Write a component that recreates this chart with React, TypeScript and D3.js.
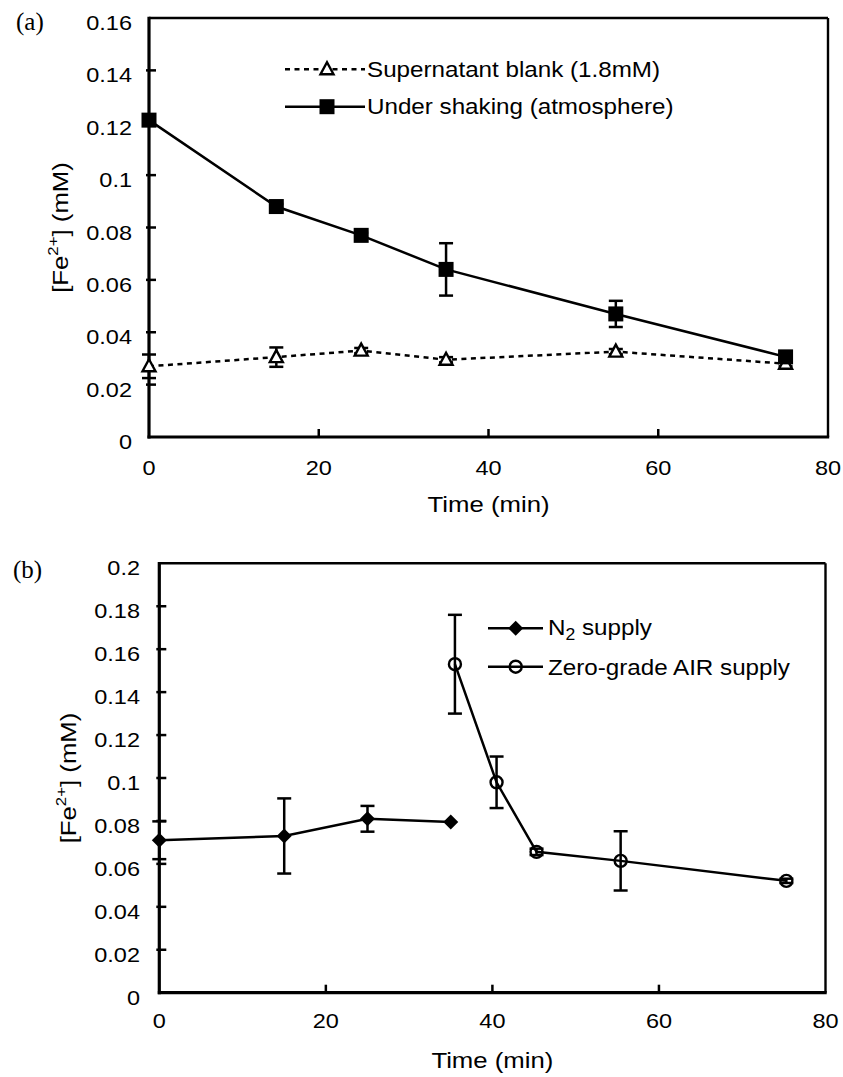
import React from "react";
import * as d3 from "d3";

// ---------- Data: panel (a) ----------
const timeA = [0, 15, 25, 35, 55, 75];
const blankVals = [0.027, 0.0305, 0.033, 0.0295, 0.0326, 0.028];
const blankErr = [0.0045, 0.0037, 0.001, 0.001, 0.001, 0.001];
const shakingVals = [0.121, 0.088, 0.077, 0.064, 0.047, 0.0306];
const shakingErr = [0.001, 0.001, 0.001, 0.01, 0.005, 0.001];
const yTicksA = [0, 0.02, 0.04, 0.06, 0.08, 0.1, 0.12, 0.14, 0.16];
const yTickLabelsA = ["0", "0.02", "0.04", "0.06", "0.08", "0.1", "0.12", "0.14", "0.16"];

// ---------- Data: panel (b) ----------
const timeN2 = [0, 15, 25, 35];
const n2Vals = [0.071, 0.073, 0.081, 0.0795];
const n2Err = [0.0088, 0.0175, 0.006, 0];
const timeAir = [35.5, 40.5, 45.3, 55.4, 75.3];
const airVals = [0.153, 0.098, 0.0656, 0.0614, 0.0521];
const airErr = [0.023, 0.012, 0.0015, 0.0138, 0.001];
const yTicksB = [0, 0.02, 0.04, 0.06, 0.08, 0.1, 0.12, 0.14, 0.16, 0.18, 0.2];
const yTickLabelsB = ["0", "0.02", "0.04", "0.06", "0.08", "0.1", "0.12", "0.14", "0.16", "0.18", "0.2"];

const xTicks = [0, 20, 40, 60, 80];
const xTickLabels = ["0", "20", "40", "60", "80"];

const FONT = "'Liberation Sans', Arial, Helvetica, sans-serif";
const SX = 1.12;
const SW = 2.5;

function T({ x, y, size, anchor = "start", rotate = 0, sx = SX, children, family = FONT }: any) {
  const tr = `translate(${x},${y})${rotate ? ` rotate(${rotate})` : ""} scale(${sx},1)`;
  return (
    <text transform={tr} fontSize={size} textAnchor={anchor} fontFamily={family} fill="#000">
      {children}
    </text>
  );
}

type Series = {
  xs: number[];
  ys: number[];
  errs: number[];
  dash?: string;
  marker: "square" | "triangle" | "diamond" | "circle";
};

function Marker({ type, x, y }: { type: string; x: number; y: number }) {
  if (type === "square") return <rect x={x - 7.5} y={y - 7.5} width={15} height={15} fill="#000" />;
  if (type === "triangle")
    return (
      <polygon
        points={`${x},${y - 7} ${x + 6.5},${y + 5} ${x - 6.5},${y + 5}`}
        fill="#fff"
        stroke="#000"
        strokeWidth={2.4}
      />
    );
  if (type === "diamond")
    return (
      <polygon points={`${x},${y - 7.5} ${x + 7.5},${y} ${x},${y + 7.5} ${x - 7.5},${y}`} fill="#000" />
    );
  return <circle cx={x} cy={y} r={6} fill="none" stroke="#000" strokeWidth={2.4} />;
}

function Panel({
  left, right, top, bottom, yMax, yTicks, yTickLabels, series,
  tickLabelRight, yLabelX, xLabelBaseline, xTitleBaseline,
}: any) {
  const x = d3.scaleLinear().domain([0, 80]).range([left, right]);
  const y = d3.scaleLinear().domain([0, yMax]).range([bottom, top]);
  const line = d3.line<[number, number]>().x((d) => x(d[0])).y((d) => y(d[1]));
  return (
    <g>
      {/* frame */}
      <line x1={left} y1={top} x2={right} y2={top} stroke="#000" strokeWidth={2.4} />
      <line x1={right} y1={top} x2={right} y2={bottom} stroke="#000" strokeWidth={2.4} />
      <line x1={left} y1={top - 1.2} x2={left} y2={bottom + 1.5} stroke="#000" strokeWidth={3.2} />
      <line x1={left - 1.5} y1={bottom} x2={right + 1.2} y2={bottom} stroke="#000" strokeWidth={3.2} />
      {/* y ticks */}
      {yTicks.map((t: number, i: number) => (
        <g key={"yt" + i}>
          {t > 0 && t < yMax && (
            <line x1={left - 3} x2={left + 7} y1={y(t)} y2={y(t)} stroke="#000" strokeWidth={SW} />
          )}
          <T x={tickLabelRight} y={y(t) + 12} size={21} anchor="end">
            {yTickLabels[i]}
          </T>
        </g>
      ))}
      {/* x ticks */}
      {xTicks.map((t, i) => (
        <g key={"xt" + i}>
          {t > 0 && t < 80 && (
            <line x1={x(t)} x2={x(t)} y1={bottom} y2={bottom - 8} stroke="#000" strokeWidth={SW} />
          )}
          <T x={x(t)} y={xLabelBaseline} size={21} anchor="middle">
            {xTickLabels[i]}
          </T>
        </g>
      ))}
      <T x={(left + right) / 2} y={xTitleBaseline} size={23} anchor="middle">
        Time (min)
      </T>
      <T x={yLabelX} y={(top + bottom) / 2} size={23} anchor="middle" rotate={-90}>
        [Fe<tspan fontSize={15} dy={-10}>2+</tspan>
        <tspan dy={10}>] (mM)</tspan>
      </T>
      {/* series lines */}
      {series.map((s: Series, si: number) => (
        <path
          key={"l" + si}
          d={line(s.xs.map((v, i) => [v, s.ys[i]]) as [number, number][]) || ""}
          fill="none"
          stroke="#000"
          strokeWidth={SW}
          strokeDasharray={s.dash}
        />
      ))}
      {/* error bars */}
      {series.map((s: Series, si: number) =>
        s.xs.map((v, i) =>
          s.errs[i] > 0 ? (
            <g key={"e" + si + "-" + i} stroke="#000" strokeWidth={SW}>
              <line x1={x(v)} x2={x(v)} y1={y(s.ys[i] - s.errs[i])} y2={y(s.ys[i] + s.errs[i])} />
              <line x1={x(v) - 7} x2={x(v) + 7} y1={y(s.ys[i] - s.errs[i])} y2={y(s.ys[i] - s.errs[i])} />
              <line x1={x(v) - 7} x2={x(v) + 7} y1={y(s.ys[i] + s.errs[i])} y2={y(s.ys[i] + s.errs[i])} />
            </g>
          ) : null
        )
      )}
      {/* markers */}
      {series.map((s: Series, si: number) =>
        s.xs.map((v, i) => <Marker key={"m" + si + "-" + i} type={s.marker} x={x(v)} y={y(s.ys[i])} />)
      )}
    </g>
  );
}

export default function App() {
  const seriesA: Series[] = [
    { xs: timeA, ys: blankVals, errs: blankErr, dash: "5,4.5", marker: "triangle" },
    { xs: timeA, ys: shakingVals, errs: shakingErr, marker: "square" },
  ];
  const seriesB: Series[] = [
    { xs: timeN2, ys: n2Vals, errs: n2Err, marker: "diamond" },
    { xs: timeAir, ys: airVals, errs: airErr, marker: "circle" },
  ];
  return (
    <svg
      width={843}
      height={1077}
      viewBox="0 0 843 1077"
      style={{ position: "absolute", left: 0, top: 0, background: "#fff" }}
    >
      <rect width={843} height={1077} fill="#fff" />
      {/* Panel (a) */}
      <T x={16} y={30} size={25} sx={1} family="'Liberation Serif', 'Times New Roman', serif">(a)</T>
      <Panel
        left={149} right={828} top={18} bottom={437}
        yMax={0.16} yTicks={yTicksA} yTickLabels={yTickLabelsA} series={seriesA}
        tickLabelRight={132} yLabelX={68} xLabelBaseline={475} xTitleBaseline={512}
      />
      {/* Legend (a) */}
      <line x1={285} x2={365} y1={69.3} y2={69.3} stroke="#000" strokeWidth={SW} strokeDasharray="5,4.5" />
      <Marker type="triangle" x={327} y={69.3} />
      <T x={367} y={77} size={22} sx={1.1}>Supernatant blank (1.8mM)</T>
      <line x1={285} x2={365} y1={106.7} y2={106.7} stroke="#000" strokeWidth={SW} />
      <Marker type="square" x={327} y={106.7} />
      <T x={367} y={114} size={22} sx={1.1}>Under shaking (atmosphere)</T>

      {/* Panel (b) */}
      <T x={13} y={578} size={25} sx={1} family="'Liberation Serif', 'Times New Roman', serif">(b)</T>
      <Panel
        left={159.3} right={825.5} top={563.3} bottom={992.7}
        yMax={0.2} yTicks={yTicksB} yTickLabels={yTickLabelsB} series={seriesB}
        tickLabelRight={140} yLabelX={76} xLabelBaseline={1028} xTitleBaseline={1068}
      />
      {/* Legend (b) */}
      <line x1={488} x2={543} y1={628.3} y2={628.3} stroke="#000" strokeWidth={SW} />
      <Marker type="diamond" x={515.7} y={628.3} />
      <T x={548} y={635} size={22} sx={1.1}>
        N<tspan fontSize={16} dy={5}>2</tspan>
        <tspan dy={-5}> supply</tspan>
      </T>
      <line x1={488} x2={543} y1={666.7} y2={666.7} stroke="#000" strokeWidth={SW} />
      <Marker type="circle" x={515.7} y={666.7} />
      <T x={548} y={675} size={22} sx={1.1}>Zero-grade AIR supply</T>
    </svg>
  );
}
